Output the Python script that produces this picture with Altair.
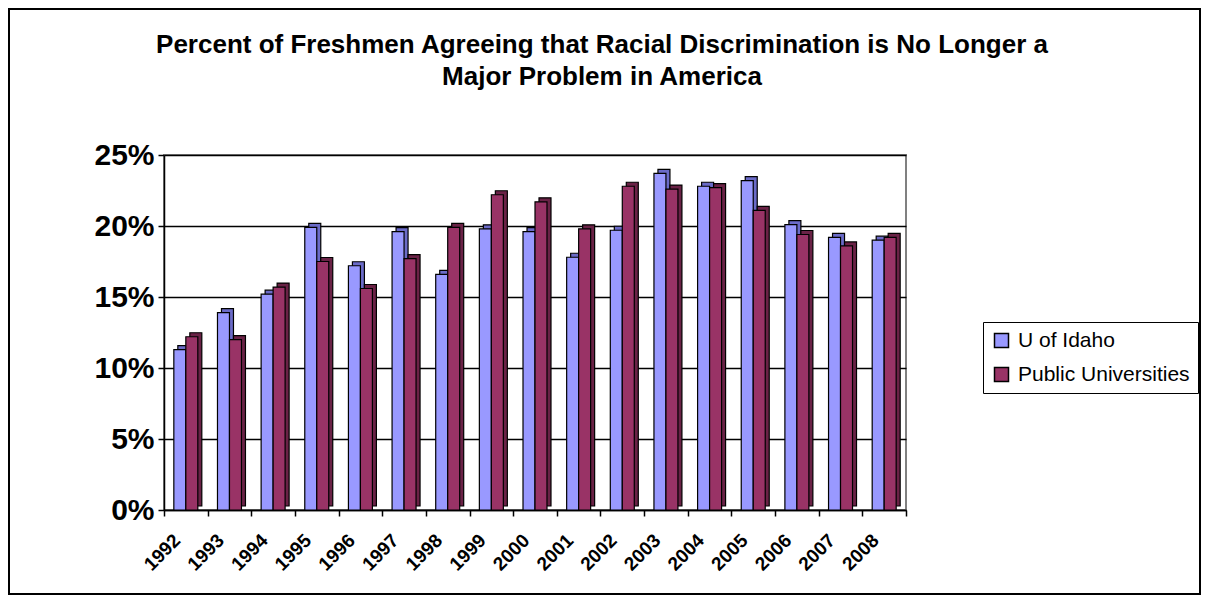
import altair as alt
import pandas as pd

# ---- data ----
years = ["1992", "1993", "1994", "1995", "1996", "1997", "1998", "1999", "2000",
         "2001", "2002", "2003", "2004", "2005", "2006", "2007", "2008"]
u_of_idaho = [11.3, 13.9, 15.2, 19.9, 17.2, 19.6, 16.6, 19.8, 19.6,
              17.8, 19.7, 23.7, 22.8, 23.2, 20.1, 19.2, 19.0]
public_univ = [12.2, 12.0, 15.7, 17.5, 15.6, 17.7, 19.9, 22.2, 21.7,
               19.8, 22.8, 22.6, 22.7, 21.1, 19.4, 18.6, 19.2]
series_names = ["U of Idaho", "Public Universities"]
front_colors = ["#9999FF", "#993366"]
side_colors = ["#6B6BC8", "#6A2246"]
y_ticks = [0, 5, 10, 15, 20, 25]
title_lines = ["Percent of Freshmen Agreeing that Racial Discrimination is No Longer a",
               "Major Problem in America"]

FONT = "Liberation Sans, Arial, sans-serif"

rows = []
for i, yr in enumerate(years):
    rows.append({"year": yr, "series": series_names[0], "value": u_of_idaho[i], "side": side_colors[0]})
    rows.append({"year": yr, "series": series_names[1], "value": public_univ[i], "side": side_colors[1]})
df = pd.DataFrame(rows)

W, H = 742, 355
STEP = W / len(years)
DEPTH = 4

x_enc = alt.X(
    "year:N", sort=years,
    scale=alt.Scale(paddingInner=0, paddingOuter=0),
    axis=alt.Axis(title=None, labelAngle=-45, labelAlign="right", labelBaseline="middle",
                  labelFont=FONT, labelFontSize=19, labelFontWeight="bold", labelColor="black",
                  tickBand="extent", tickColor="black", tickSize=6, tickWidth=1.5,
                  domainColor="black", domainWidth=1.5, labelPadding=21, labelOffset=-9,
                  grid=False),
)
y_enc = alt.Y(
    "value:Q",
    scale=alt.Scale(domain=[0, 25], nice=False),
    axis=alt.Axis(title=None, values=y_ticks, labelExpr="datum.value + '%'",
                  labelFont=FONT, labelFontSize=30, labelFontWeight="bold", labelColor="black",
                  tickColor="black", tickSize=6, tickWidth=1.5,
                  domainColor="black", domainWidth=1.5,
                  gridColor="black", gridWidth=1.5, labelPadding=4),
)

frame = alt.Chart(pd.DataFrame({"k": [0]})).mark_rect(
    fill="white", fillOpacity=0, stroke="black", strokeWidth=2
).encode(x=alt.value(-155), x2=alt.value(1036), y=alt.value(-146), y2=alt.value(439))

shadow = alt.Chart(df).mark_bar(
    yOffset=-DEPTH, y2Offset=-DEPTH, stroke="black", strokeWidth=1.2
).encode(
    x=x_enc,
    xOffset=alt.XOffset("series:N", sort=series_names,
                        scale=alt.Scale(paddingInner=0, paddingOuter=0.82,
                                        range=[DEPTH, STEP + DEPTH])),
    y=y_enc, color=alt.Color("side:N", scale=None),
)

front = alt.Chart(df).mark_bar(stroke="black", strokeWidth=1.2).encode(
    x=x_enc,
    xOffset=alt.XOffset("series:N", sort=series_names,
                        scale=alt.Scale(paddingInner=0, paddingOuter=0.82,
                                        range=[0, STEP])),
    y=y_enc,
    color=alt.Color("series:N", sort=series_names,
                    scale=alt.Scale(domain=series_names, range=front_colors),
                    legend=alt.Legend(title=None, orient="none", legendX=819, legendY=167,
                                      strokeColor="black", fillColor="white", padding=8,
                                      symbolType="square", symbolSize=196,
                                      symbolStrokeColor="black", symbolStrokeWidth=1.5,
                                      symbolOpacity=1, labelFont=FONT, labelFontSize=21,
                                      labelLimit=400,
                                      labelColor="black", labelOffset=6, rowPadding=12)),
)

chart = alt.layer(frame, shadow, front).resolve_scale(
    xOffset="independent"
).properties(
    width=W, height=H,
    title=alt.TitleParams(text=title_lines, anchor="middle", font=FONT, fontSize=26,
                          fontWeight="bold", color="black", lineHeight=32, dx=67, offset=-82),
    autosize=alt.AutoSizeParams(type="none"),
    padding={"left": 156, "top": 147, "right": 295, "bottom": 85},
    background="white",
).configure_view(stroke="#808080", strokeWidth=2)

chart.save("out.html", embed_options={"renderer": "svg", "actions": False})
